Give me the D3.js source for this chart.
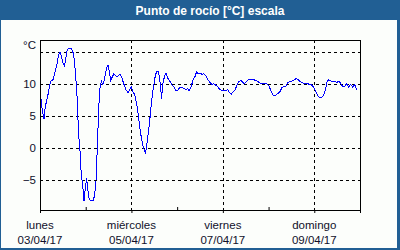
<!DOCTYPE html>
<html>
<head>
<meta charset="utf-8">
<script src="https://cdn.jsdelivr.net/npm/d3@7"></script>
<style>
  body { margin: 0; background: #fff; }
  svg { display: block; font-family: "Liberation Sans", Arial, sans-serif; }
</style>
</head>
<body>
<div id="root"></div>
<script>
const width = 400;
const height = 250;

const title = "Punto de rocío [°C] escala";

// hours since Monday 03/04/17 00:00
const hours = [
  0, 1.0, 2.1, 2.8, 3.85, 4.9, 5.6, 7.0, 8.0, 9.1, 9.8, 10.5, 11.2, 11.9, 12.9, 13.6,
  14.3, 15.4, 16.4, 17.5, 18.2, 18.9, 19.6, 19.9, 20.3, 21.0, 21.3, 21.7, 22.4, 23.1,
  23.8, 24.5, 25.2, 25.9, 26.9, 28.0, 28.7, 29.4, 29.7, 30.1, 30.4, 30.8, 31.1, 31.5,
  32.2, 32.9, 33.6, 34.3, 35.0, 35.7, 36.4, 37.1, 37.8, 38.8, 39.9, 40.9,
  42.0, 43.0, 44.1, 45.1, 46.2, 47.2, 47.9, 48.6, 49.7, 50.7, 51.8, 52.8, 53.9, 54.9,
  55.4, 56.3, 57.4, 58.4, 59.5, 60.5, 61.2, 61.9, 62.6, 63.3, 63.8, 64.4, 65.4, 66.1,
  67.1, 68.2, 69.2, 70.3, 71.3, 72.4, 73.4, 74.5, 75.5, 76.6, 77.6, 78.3, 79.4, 80.4,
  81.5, 82.2, 82.9, 83.9, 85.0, 86.0, 87.1, 88.1, 89.2, 90.2, 91.3, 92.3, 93.4, 94.4,
  95.5, 96.5, 97.6, 98.6, 99.3, 100.4, 101.4, 102.5, 103.5, 104.6, 105.6, 106.7, 107.4,
  108.4, 109.5, 110.5, 111.6, 112.6, 113.6, 114.7, 115.8, 116.8, 117.9, 118.9, 120.0,
  121.0, 121.7, 122.8, 123.8, 124.9, 125.9, 127.0, 128.0, 129.1, 130.1, 131.2, 132.2,
  133.3, 134.3, 135.4, 136.5, 137.5, 138.6, 139.6, 140.7, 141.7, 142.8, 143.8, 144.9,
  145.9, 146.9, 148.0, 149.0, 150.1, 150.8, 151.5, 152.6, 153.6, 154.7, 155.7, 156.8,
  157.8, 158.9, 159.9, 161.0, 162.0, 163.1, 164.1, 165.2, 166.2, 166.6
];

const dewPoint = [
  9.3, 6.3, 4.5, 6.5, 7.8, 9.4, 10.4, 10.7, 12.0, 13.3, 14.6, 15.0, 14.3, 13.4, 12.8, 14.1,
  15.4, 15.6, 15.5, 14.8, 13.3, 10.4, 7.3, 4.7, 2.1, -0.5, -2.3, -4.2, -5.7, -8.3,
  -6.3, -4.7, -6.8, -8.1, -8.3, -8.2, -7.3, -5.2, -2.6, 0.0, 2.6, 5.7, 7.8, 9.4,
  10.4, 9.9, 10.4, 11.5, 12.5, 12.9, 12.0, 10.5, 11.0, 11.6, 11.2, 11.2,
  11.5, 10.9, 9.9, 9.1, 8.6, 9.1, 9.6, 8.9, 8.3, 7.0, 4.7, 2.3, 0.5, -0.5,
  -0.8, 1.0, 3.6, 6.8, 9.4, 11.2, 11.9, 12.0, 11.2, 9.6, 7.6, 9.9, 11.2, 11.7,
  10.9, 10.4, 9.9, 9.5, 9.0, 9.0, 9.5, 9.5, 9.3, 9.1, 9.3, 8.9, 9.6, 10.7,
  11.2, 11.9, 11.6, 11.7, 11.5, 11.6, 11.2, 10.7, 10.2, 9.9, 10.0, 9.8, 9.5, 9.1,
  9.0, 9.0, 8.9, 9.1, 8.75, 8.4, 8.75, 9.1, 9.9, 10.4, 10.5, 10.2, 10.0,
  10.4, 10.7, 10.7, 10.7, 10.6, 10.5, 10.3, 10.1, 10.0, 10.0, 10.0, 9.8,
  9.1, 8.6, 8.1, 8.2, 8.5, 8.75, 9.4, 9.6, 9.6, 10.2, 10.4, 10.4,
  10.6, 10.8, 10.7, 10.4, 10.2, 10.1, 10.1, 10.0, 9.9, 9.8, 9.4, 8.75,
  8.1, 7.9, 7.9, 8.3, 9.4, 10.4, 10.6, 10.5, 10.3, 10.4, 10.2, 10.4,
  10.1, 9.6, 9.6, 10.0, 9.5, 9.9, 9.5, 9.9, 9.1, 9.0
];

const yTicks = [-5, 0, 5, 10];
const yGrid = [-5, 0, 5, 10, 15];
const yUnit = "°C";
const dayNames = ["lunes", "miércoles", "viernes", "domingo"];
const dateLabels = ["03/04/17", "05/04/17", "07/04/17", "09/04/17"];

const start = new Date(2017, 3, 3);
const end = new Date(2017, 3, 10);
const data = hours.map((h, i) => ({ t: d3.timeMinute.offset(start, Math.round(h * 60)), v: dewPoint[i] }));

const frameColor = "#215f94";
const textColor = "#10102a";
const plot = { left: 40, right: 360, top: 40, bottom: 210 };

const svg = d3.select("#root")
    .append("svg")
    .attr("width", width)
    .attr("height", height);

svg.append("rect")
    .attr("width", width)
    .attr("height", height)
    .attr("fill", frameColor);

svg.append("rect")
    .attr("x", 1)
    .attr("y", 20)
    .attr("width", 396)
    .attr("height", 228)
    .attr("fill", "#fcfefb");

svg.append("text")
    .attr("x", 210)
    .attr("y", 14.5)
    .attr("text-anchor", "middle")
    .attr("fill", "#fff")
    .attr("font-weight", "bold")
    .attr("font-size", 12)
    .text(title);

const x = d3.scaleTime()
    .domain([start, end])
    .range([plot.left, plot.right]);

const y = d3.scaleLinear()
    .domain([-9.7, 16.85])
    .range([plot.bottom, plot.top]);

const majorDays = d3.timeDay.every(2).range(start, end);
const minorDays = d3.timeDay.range(start, end).filter((d, i) => i % 2 === 1);

const px = v => Math.round(v) + 0.5;

// grid
svg.append("g")
    .selectAll("line")
    .data(yGrid)
    .join("line")
    .attr("x1", plot.left)
    .attr("x2", plot.right)
    .attr("y1", d => px(y(d)))
    .attr("y2", d => px(y(d)))
    .attr("stroke", "#000")
    .attr("stroke-dasharray", "3,3");

svg.append("g")
    .selectAll("line")
    .data(majorDays.slice(1))
    .join("line")
    .attr("x1", d => px(x(d)))
    .attr("x2", d => px(x(d)))
    .attr("y1", plot.top)
    .attr("y2", plot.bottom)
    .attr("stroke", "#000")
    .attr("stroke-dasharray", "3,3");

// line
svg.append("path")
    .datum(data)
    .attr("fill", "none")
    .attr("stroke", "#0000ff")
    .attr("stroke-width", 1)
    .attr("shape-rendering", "crispEdges")
    .attr("d", d3.line().x(d => x(d.t)).y(d => y(d.v)));

// frame
svg.append("rect")
    .attr("x", plot.left + 0.5)
    .attr("y", plot.top + 0.5)
    .attr("width", plot.right - plot.left)
    .attr("height", plot.bottom - plot.top)
    .attr("fill", "none")
    .attr("stroke", "#000");

// x axis
const xAxis = svg.append("g")
    .attr("transform", `translate(0,${plot.bottom})`)
    .call(d3.axisBottom(x).tickValues(majorDays.concat([end])).tickSize(3).tickSizeOuter(0).tickFormat(""));
xAxis.select(".domain").remove();

const xMinor = svg.append("g")
    .attr("transform", `translate(0,${plot.bottom})`)
    .call(d3.axisBottom(x).tickValues(minorDays).tickSize(-3).tickFormat(""));
xMinor.select(".domain").remove();

const labels = svg.append("g")
    .attr("font-size", 11.5)
    .attr("fill", textColor)
    .attr("text-anchor", "middle");

labels.selectAll(".day")
    .data(majorDays)
    .join("text")
    .attr("class", "day")
    .attr("x", d => x(d))
    .attr("y", 229)
    .text((d, i) => dayNames[i]);

labels.selectAll(".date")
    .data(majorDays)
    .join("text")
    .attr("class", "date")
    .attr("x", d => x(d))
    .attr("y", 244)
    .text((d, i) => dateLabels[i]);

// y axis
const yAxis = svg.append("g")
    .attr("transform", `translate(${plot.left},0)`)
    .call(d3.axisLeft(y).tickValues(yTicks).tickSize(0).tickPadding(4));
yAxis.select(".domain").remove();
yAxis.selectAll("text")
    .attr("font-size", 11.5)
    .attr("font-family", "Liberation Sans, Arial, sans-serif")
    .attr("fill", textColor);

svg.append("text")
    .attr("x", plot.left - 4)
    .attr("y", y(15) - 3)
    .attr("text-anchor", "end")
    .attr("font-size", 11.5)
    .attr("fill", textColor)
    .text(yUnit);
</script>
</body>
</html>
